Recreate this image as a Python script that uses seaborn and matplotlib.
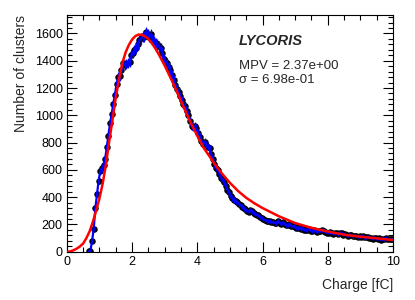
import numpy as np
import pandas as pd
import matplotlib
matplotlib.use("Agg")
import matplotlib.pyplot as plt
import seaborn as sns
from matplotlib.ticker import MultipleLocator

# ---- data ----
first_center = 0.675
bin_width = 0.05
counts = [
    3, 8, 80, 170, 320, 420, 520, 590, 610, 636,
    680, 765, 850, 940, 1010, 1085, 1150, 1230, 1280, 1290,
    1330, 1380, 1370, 1375, 1385, 1390, 1440, 1460, 1480, 1495,
    1520, 1550, 1565, 1580, 1575, 1610, 1590, 1575, 1595, 1560,
    1540, 1530, 1520, 1505, 1490, 1460, 1410, 1395, 1380, 1355,
    1330, 1295, 1260, 1225, 1195, 1170, 1140, 1110, 1085, 1065,
    1035, 1000, 960, 920, 915, 918, 905, 870, 840, 815,
    790, 805, 785, 770, 758, 715, 680, 640, 615, 600,
    570, 540, 525, 510, 480, 455, 435, 405, 395, 380,
    370, 362, 350, 340, 330, 318, 310, 298, 293, 305,
    295, 285, 278, 270, 268, 255, 245, 238, 232, 228,
    225, 222, 218, 215, 212, 208, 225, 210, 205, 215,
    200, 196, 195, 205, 188, 185, 190, 175, 171, 180,
    168, 172, 162, 160, 159, 165, 155, 152, 158, 150,
    147, 150, 155, 160, 155, 148, 140, 138, 145, 140,
    132, 136, 135, 128, 140, 135, 125, 130, 122, 118,
    125, 120, 112, 118, 115, 110, 113, 108, 118, 105,
    106, 110, 102, 100, 95, 104, 98, 92, 100, 88,
    95, 90, 102, 91, 94, 90, 91,
]

fit_x = [0.0, 0.1, 0.2, 0.3, 0.4, 0.5, 0.6, 0.7, 0.8, 0.9,
         1.0, 1.1, 1.2, 1.3, 1.4, 1.5, 1.6, 1.7, 1.8, 1.9,
         2.0, 2.1, 2.2, 2.3, 2.4, 2.5, 2.6, 2.7, 2.8, 2.9,
         3.0, 3.2, 3.4, 3.6, 3.8, 4.0, 4.2, 4.4, 4.6, 4.8,
         5.0, 5.25, 5.5, 5.75, 6.0, 6.5, 7.0, 7.5, 8.0, 8.5,
         9.0, 9.5, 10.0]
fit_y = [0, 2, 10, 22, 38, 60, 100, 150, 220, 300,
         390, 500, 640, 810, 965, 1130, 1265, 1380, 1460, 1515,
         1555, 1580, 1592, 1590, 1578, 1560, 1530, 1495, 1455, 1410,
         1365, 1265, 1160, 1050, 945, 850, 760, 690, 620, 560,
         505, 445, 395, 355, 320, 260, 210, 175, 148, 125,
         110, 98, 86]

x_label = "Charge [fC]"
y_label = "Number of clusters"
title_text = "LYCORIS"
mpv_text = "MPV = 2.37e+00"
sigma_text = "\u03c3 = 6.98e-01"

# ---- figure ----
sns.set_theme(style="ticks")
plt.rcParams["font.family"] = ["Liberation Sans", "DejaVu Sans"]

dpi = 100
fig = plt.figure(figsize=(4.15, 3.0), dpi=dpi)
ax = fig.add_axes([0.161, 0.161, 0.786, 0.788])

cnt = np.array(counts, dtype=float)
centers = first_center + bin_width * np.arange(len(cnt))
df = pd.DataFrame({"charge": centers, "n": cnt})
fit_df = pd.DataFrame({"charge": fit_x, "n": fit_y})

sns.scatterplot(data=df, x="charge", y="n", ax=ax, color="black",
                s=22, linewidth=0, zorder=2, legend=False)
ax.errorbar(df["charge"], df["n"], yerr=np.sqrt(cnt), xerr=bin_width / 2,
            fmt="none", ecolor="blue", elinewidth=0.9, capsize=0, zorder=3)
sns.lineplot(data=df, x="charge", y="n", ax=ax, color="blue",
             linewidth=1.6, zorder=3, estimator=None, sort=False)
sns.lineplot(data=fit_df, x="charge", y="n", ax=ax, color="red",
             linewidth=1.8, zorder=4, estimator=None, sort=False)

ax.set_xlim(0, 10)
ax.set_ylim(0, 1733)
ax.xaxis.set_major_locator(MultipleLocator(2))
ax.xaxis.set_minor_locator(MultipleLocator(0.5))
ax.yaxis.set_major_locator(MultipleLocator(200))
ax.yaxis.set_minor_locator(MultipleLocator(40))
ax.tick_params(which="both", direction="in", top=True, right=True,
               labelsize=9, colors="black", width=0.8)
ax.tick_params(which="major", length=7)
ax.tick_params(which="minor", length=3.5)
ax.tick_params(axis="x", which="major", pad=3)
ax.tick_params(axis="y", which="major", pad=3)
for sp in ax.spines.values():
    sp.set_visible(True)
    sp.set_linewidth(0.8)
    sp.set_color("black")

ax.set_xlabel("")
ax.set_ylabel("")
fig.text(0.947, 0.05, x_label, ha="right", va="center", fontsize=10)
fig.text(0.05, 0.949, y_label, ha="center", va="top", rotation=90, fontsize=10)

ax.text(0.576, 0.863, title_text, transform=fig.transFigure, ha="left",
        va="center", fontsize=10.5, fontweight="bold", fontstyle="italic")
ax.text(0.576, 0.78, mpv_text, transform=fig.transFigure, ha="left",
        va="center", fontsize=9.5)
ax.text(0.576, 0.733, sigma_text, transform=fig.transFigure, ha="left",
        va="center", fontsize=9.5)

fig.savefig("out.png", dpi=dpi)
